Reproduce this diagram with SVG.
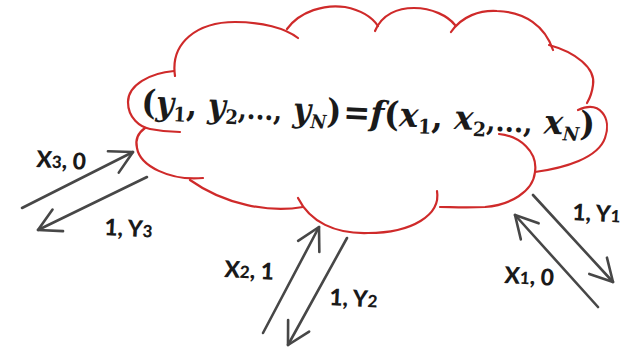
<svg xmlns="http://www.w3.org/2000/svg" width="625" height="349" viewBox="0 0 625 349">
<style>
.cloud{fill:none;stroke:#cf2a2a;stroke-width:2.2;stroke-linecap:round;stroke-linejoin:round}
.conn{fill:none;stroke:#474747;stroke-width:2.6;stroke-linecap:round}
.eq{font-family:"DejaVu Serif","Liberation Serif",serif;font-weight:bold;font-size:34px;fill:#1a1a1a}
.it{font-style:italic}
.up{font-style:normal}
.sub{font-size:20px;font-style:normal}
.subi{font-size:19px;font-style:italic}
.dots{font-size:28px;font-style:normal}
.lbl{font-family:Lato,"Open Sans","Liberation Sans",sans-serif;font-weight:900;font-size:23px;fill:#1a1a1a}
.dig{font-size:17px}
</style>
<defs>
<marker id="ah" markerUnits="userSpaceOnUse" markerWidth="30" markerHeight="30" viewBox="-24 -15 28 30" refX="0" refY="0" orient="auto">
<path d="M -22,-12 L 0,0 L -22,12" fill="none" stroke="#474747" stroke-width="2.6" stroke-linecap="round" stroke-linejoin="round"/>
</marker>
</defs>
<rect width="625" height="349" fill="#ffffff"/>
<g id="cloud">
<path class="cloud" d="M 175,76 C 170,42 198,22 235,22 C 262,22 285,28 298,38"/>
<path class="cloud" d="M 287,29 C 300,11 325,4 345,7 C 360,10 372,17 378,26"/>
<path class="cloud" d="M 375,31 C 382,14 398,8 414,8 C 432,8 448,16 455,25"/>
<path class="cloud" d="M 451,32 C 462,16 480,10 497,11 C 525,12 545,26 553,50"/>
<path class="cloud" d="M 549,45 C 575,52 596,68 593,85 C 592,93 590,98 587,103"/>
<path class="cloud" d="M 578,110 C 600,100 612,118 605,138 C 598,158 565,168 535,172"/>
<path class="cloud" d="M 499,134 C 520,136 538,152 535,172 C 533,192 510,205 485,207 C 465,208 450,207 440,207"/>
<path class="cloud" d="M 437,191 C 441,215 412,233 368,233 C 335,234 310,222 298,198"/>
<path class="cloud" d="M 303,207 C 270,213 225,205 190,180"/>
<path class="cloud" d="M 203,178 C 170,181 140,166 137,148 C 135,140 138,133 145,128"/>
<path class="cloud" d="M 174,71 C 150,73 128,85 128,102 C 128,118 140,127 150,129 C 160,131 170,132 180,132"/>
</g>
<g id="formula" transform="rotate(2.8 147 113)">
<text class="eq" x="141" y="114" textLength="200" lengthAdjust="spacingAndGlyphs"><tspan class="up">(</tspan><tspan class="it">y</tspan><tspan class="sub" dy="6">1</tspan><tspan class="up" dy="-6">, </tspan><tspan class="it">y</tspan><tspan class="sub" dy="6">2</tspan><tspan class="dots" dy="-6">,...,</tspan><tspan class="up"> </tspan><tspan class="it">y</tspan><tspan class="subi" dy="6">N</tspan><tspan class="up" dy="-6">)</tspan></text>
<text class="eq" x="343" y="114" textLength="252" lengthAdjust="spacingAndGlyphs"><tspan class="up">=</tspan><tspan class="it">f</tspan><tspan class="up">(</tspan><tspan class="it">x</tspan><tspan class="sub" dy="6">1</tspan><tspan class="up" dy="-6">, </tspan><tspan class="it">x</tspan><tspan class="sub" dy="6">2</tspan><tspan class="dots" dy="-6">,...,</tspan><tspan class="up"> </tspan><tspan class="it">x</tspan><tspan class="subi" dy="6">N</tspan><tspan class="up" dy="-6">)</tspan></text>
</g>
<g id="connectors">
<line class="conn" x1="22" y1="208" x2="133" y2="152" marker-end="url(#ah)"/>
<line class="conn" x1="147" y1="177" x2="38" y2="230" marker-end="url(#ah)"/>
<line class="conn" x1="263" y1="333" x2="319" y2="227" marker-end="url(#ah)"/>
<line class="conn" x1="347" y1="238" x2="288" y2="345" marker-end="url(#ah)"/>
<line class="conn" x1="533" y1="195" x2="613" y2="282" marker-end="url(#ah)"/>
<line class="conn" x1="598" y1="307" x2="515" y2="215" marker-end="url(#ah)"/>
</g>
<g id="labels">
<text class="lbl" x="36" y="167" transform="rotate(3 36 167)">X<tspan class="dig">3</tspan>, 0</text>
<text class="lbl" x="104" y="235" transform="rotate(3 104 235)">1, Y<tspan class="dig">3</tspan></text>
<text class="lbl" x="224" y="277" transform="rotate(3 224 277)">X<tspan class="dig">2</tspan>, 1</text>
<text class="lbl" x="329" y="305" transform="rotate(3 329 305)">1, Y<tspan class="dig">2</tspan></text>
<text class="lbl" x="572" y="220" transform="rotate(3 572 220)">1, Y<tspan class="dig">1</tspan></text>
<text class="lbl" x="504" y="283" transform="rotate(3 504 283)">X<tspan class="dig">1</tspan>, 0</text>
</g>
</svg>
